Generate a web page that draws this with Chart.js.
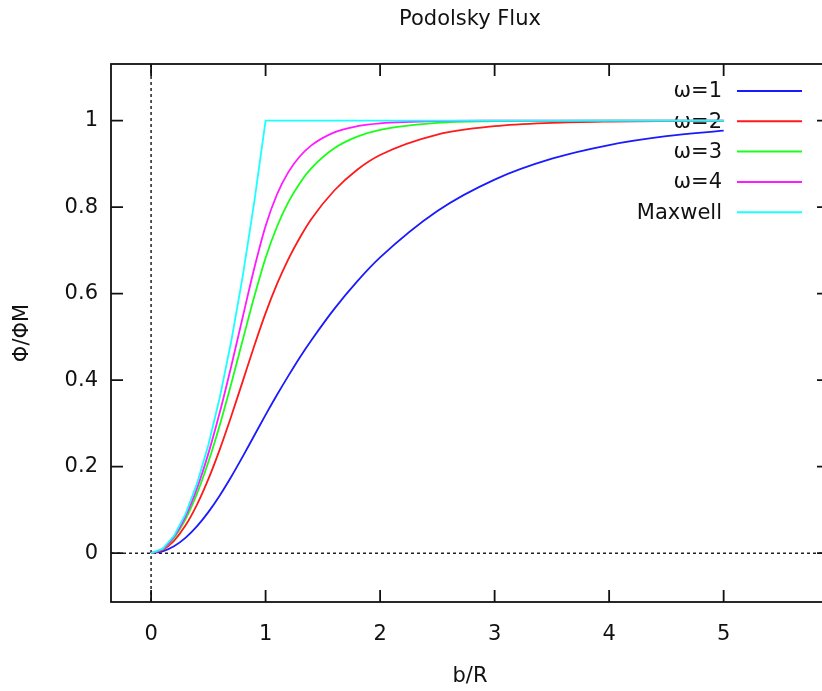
<!DOCTYPE html>
<html>
<head>
<meta charset="utf-8">
<script src="https://cdn.jsdelivr.net/npm/chart.js@4.4.1/dist/chart.umd.min.js"></script>
<style>
  html, body { margin: 0; padding: 0; background: #fff; overflow: hidden; }
  #wrap { width: 822px; height: 691px; overflow: hidden; }
</style>
</head>
<body>
<div id="wrap"><canvas id="flux" width="840" height="691"></canvas></div>
<script>
// b/R sample points
const bR = [0, 0.1, 0.2, 0.3, 0.4, 0.5, 0.6, 0.7, 0.8, 0.9, 1.0, 1.1, 1.2, 1.3, 1.4, 1.6, 1.8, 2.0, 2.5, 3.0, 3.5, 4.0, 4.5, 5.0];

// Phi/PhiM for each curve
const omega1 = [0, 0.0040, 0.0158, 0.0352, 0.0618, 0.0948, 0.1334, 0.1766, 0.2231, 0.2714, 0.3197, 0.3662, 0.4105, 0.4531, 0.4923, 0.5648, 0.6284, 0.6838, 0.7912, 0.8638, 0.9120, 0.9436, 0.9640, 0.9771];
const omega2 = [0, 0.0072, 0.0286, 0.0637, 0.1116, 0.1710, 0.2400, 0.3165, 0.3972, 0.4785, 0.5550, 0.6224, 0.6805, 0.7299, 0.7727, 0.8385, 0.8866, 0.9206, 0.9678, 0.9872, 0.9949, 0.9980, 0.9992, 0.9997];
const omega3 = [0, 0.0088, 0.0350, 0.0780, 0.1370, 0.2106, 0.2965, 0.3919, 0.4923, 0.5920, 0.6825, 0.7553, 0.8121, 0.8561, 0.8900, 0.9360, 0.9629, 0.9787, 0.9947, 0.9987, 0.9997, 0.9999, 1.0, 1.0];
const omega4 = [0, 0.0095, 0.0378, 0.0846, 0.1492, 0.2301, 0.3256, 0.4323, 0.5454, 0.6574, 0.7563, 0.8298, 0.8815, 0.9177, 0.9429, 0.9728, 0.9871, 0.9939, 0.9991, 0.9999, 1.0, 1.0, 1.0, 1.0];
const maxwell = [0, 0.01, 0.04, 0.09, 0.16, 0.25, 0.36, 0.49, 0.64, 0.81, 1, 1, 1, 1, 1, 1, 1, 1, 1, 1, 1, 1, 1, 1];

const seriesNames = ['ω=1', 'ω=2', 'ω=3', 'ω=4', 'Maxwell'];
const xTicks = [0, 1, 2, 3, 4, 5];
const yTicks = [0, 0.2, 0.4, 0.6, 0.8, 1];

const FONT = "'DejaVu Sans', Verdana, sans-serif";
const FS = 21;

const toPoints = (vals) => bR.map((b, i) => ({ x: b, y: vals[i] }));

// рамка, внутренние засечки, пунктирные оси, ключ и заголовок в стиле gnuplot
const gnuplotLook = {
  id: 'gnuplotLook',
  beforeDatasetsDraw(chart) {
    const { ctx, chartArea: a, scales: { x, y } } = chart;
    const x0 = x.getPixelForValue(0);
    const y0 = y.getPixelForValue(0);
    ctx.save();
    ctx.strokeStyle = '#222';
    ctx.lineWidth = 1.5;
    ctx.setLineDash([3, 3]);
    ctx.beginPath();
    ctx.moveTo(x0, a.top);
    ctx.lineTo(x0, a.bottom);
    ctx.moveTo(a.left, y0);
    ctx.lineTo(a.right, y0);
    ctx.stroke();
    ctx.setLineDash([]);

    // key (top right, text to the left of the sample)
    ctx.font = FS + 'px ' + FONT;
    ctx.textAlign = 'right';
    ctx.textBaseline = 'middle';
    const textRight = a.right - 107;
    chart.data.datasets.forEach((ds, i) => {
      const yy = a.top + 27 + i * 30.3;
      ctx.fillStyle = '#111';
      ctx.fillText(ds.label, textRight, yy + 1);
      ctx.strokeStyle = ds.borderColor;
      ctx.lineWidth = 2;
      ctx.beginPath();
      ctx.moveTo(textRight + 15, yy);
      ctx.lineTo(textRight + 80, yy);
      ctx.stroke();
    });
    ctx.restore();
  },
  afterDatasetsDraw(chart) {
    const { ctx, chartArea: a, scales: { x, y } } = chart;
    const tl = 12;
    ctx.save();
    ctx.strokeStyle = '#111';
    ctx.lineWidth = 1.8;
    ctx.strokeRect(a.left, a.top, a.right - a.left, a.bottom - a.top);
    ctx.beginPath();
    xTicks.forEach(v => {
      const px = x.getPixelForValue(v);
      ctx.moveTo(px, a.bottom); ctx.lineTo(px, a.bottom - tl);
      ctx.moveTo(px, a.top); ctx.lineTo(px, a.top + tl);
    });
    yTicks.forEach(v => {
      const py = y.getPixelForValue(v);
      ctx.moveTo(a.left, py); ctx.lineTo(a.left + tl, py);
      ctx.moveTo(a.right, py); ctx.lineTo(a.right - tl, py);
    });
    ctx.stroke();
    ctx.restore();
  },
  afterDraw(chart) {
    const { ctx, chartArea: a } = chart;
    ctx.save();
    ctx.font = FS + 'px ' + FONT;
    ctx.fillStyle = '#111';
    ctx.textAlign = 'center';
    ctx.textBaseline = 'middle';
    ctx.fillText('Podolsky Flux', (a.left + a.right) / 2, 20);
    ctx.restore();
  }
};

const colors = ['#1a1aff', '#ff1a1a', '#1aff1a', '#ff1aff', '#1affff'];
const allSeries = [omega1, omega2, omega3, omega4, maxwell];

new Chart(document.getElementById('flux'), {
  type: 'line',
  data: {
    datasets: allSeries.map((s, i) => ({
      label: seriesNames[i],
      data: toPoints(s),
      borderColor: colors[i],
      borderWidth: 1.8,
      pointRadius: 0,
      fill: false,
      cubicInterpolationMode: i === 4 ? 'default' : 'monotone',
      tension: 0,
      order: 5 - i
    }))
  },
  options: {
    responsive: false,
    devicePixelRatio: 1,
    animation: false,
    layout: { padding: { top: 64, right: 11, left: 0, bottom: 0 } },
    plugins: {
      legend: { display: false },
      title: { display: false },
      tooltip: { enabled: false }
    },
    scales: {
      x: {
        type: 'linear',
        min: -0.35,
        max: 5.92,
        afterFit: (s) => { s.height = 89; },
        afterBuildTicks: (s) => { s.ticks = xTicks.map(v => ({ value: v })); },
        grid: { display: false, drawTicks: false },
        border: { display: false },
        ticks: {
          padding: 20,
          color: '#111',
          font: { family: FONT, size: FS },
          callback: (v) => String(v)
        },
        title: {
          display: true,
          text: 'b/R',
          color: '#111',
          font: { family: FONT, size: FS },
          padding: { top: 0, bottom: 2 }
        }
      },
      y: {
        type: 'linear',
        min: -0.113,
        max: 1.131,
        afterFit: (s) => { s.width = 111; },
        afterBuildTicks: (s) => { s.ticks = yTicks.map(v => ({ value: v })); },
        grid: { display: false, drawTicks: false },
        border: { display: false },
        ticks: {
          padding: 13,
          color: '#111',
          font: { family: FONT, size: FS },
          callback: (v) => String(v)
        },
        title: {
          display: true,
          text: 'Φ/ΦM',
          color: '#111',
          font: { family: FONT, size: FS },
          padding: { top: 10, bottom: 0 }
        }
      }
    }
  },
  plugins: [gnuplotLook]
});
</script>
</body>
</html>
